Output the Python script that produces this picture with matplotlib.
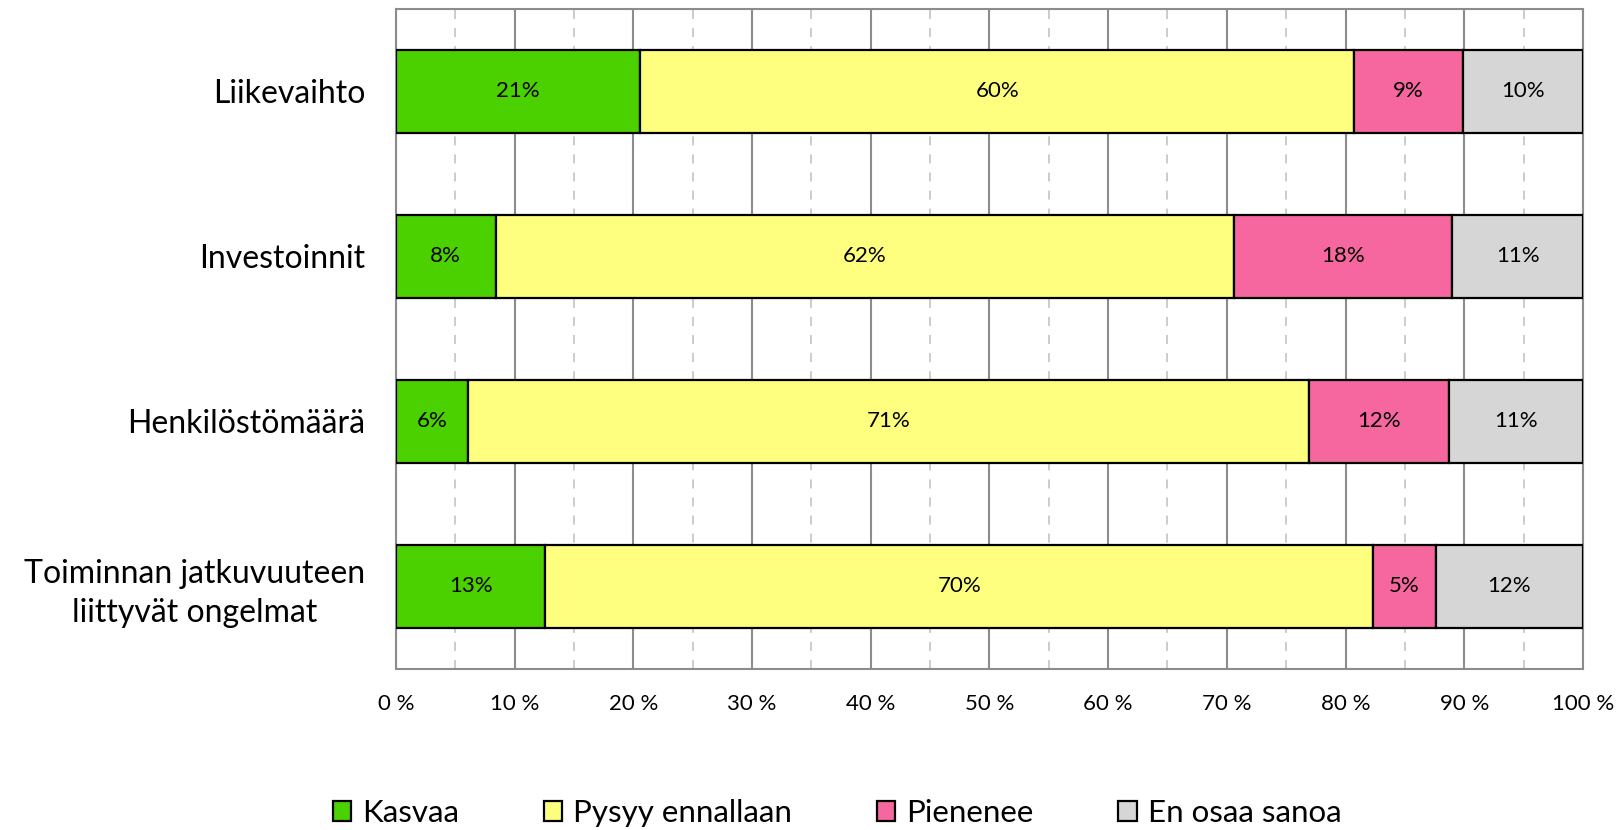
import numpy as np
import matplotlib.pyplot as plt
from matplotlib.ticker import MultipleLocator, FuncFormatter

plt.rcParams['font.family'] = ['Lato', 'DejaVu Sans']

# Data (percent of respondents)
categories = ['Liikevaihto', 'Investoinnit', 'Henkilöstömäärä',
              'Toiminnan jatkuvuuteen\nliittyvät ongelmat']
series = ['Kasvaa', 'Pysyy ennallaan', 'Pienenee', 'En osaa sanoa']
kasvaa = [20.6, 8.4, 6.1, 12.6]
pysyy = [60.1, 62.2, 70.8, 69.7]
pienenee = [9.2, 18.4, 11.8, 5.3]
en_osaa = [10.1, 11.0, 11.3, 12.4]
colors = ['#4BD000', '#FFFF7F', '#F7679F', '#D6D6D6']

fig = plt.figure(figsize=(16.22, 8.30), dpi=100)
ax = fig.add_axes([0.2441, 0.194, 0.7318, 0.7952])

y = np.arange(len(categories))
left = np.zeros(len(categories))
for name, vals, col in zip(series, [kasvaa, pysyy, pienenee, en_osaa], colors):
    vals = np.array(vals)
    bars = ax.barh(y, vals, left=left, height=0.5, color=col,
                   edgecolor='black', linewidth=1.6, label=name, zorder=3)
    for b, v in zip(bars, vals):
        ax.text(b.get_x() + b.get_width() / 2, b.get_y() + b.get_height() / 2,
                f'{v:.0f}%', ha='center', va='center', fontsize=16, zorder=4)
    left += vals

ax.set_xlim(0, 100)
ax.set_ylim(len(categories) - 0.5, -0.5)
ax.set_yticks(y)
ax.set_yticklabels(categories, fontsize=23, linespacing=1.35,
                   multialignment='center')
ax.xaxis.set_major_locator(MultipleLocator(10))
ax.xaxis.set_minor_locator(MultipleLocator(5))
ax.xaxis.set_major_formatter(FuncFormatter(lambda v, p: f'{v:.0f} %'))
ax.tick_params(axis='x', which='both', length=0, pad=18, labelsize=16)
ax.tick_params(axis='y', length=0, pad=22)

ax.grid(axis='x', which='major', color='#8C8C8C', linewidth=1.5, zorder=0)
ax.grid(axis='x', which='minor', color='#C8C8C8', linewidth=1.3,
        linestyle=(0, (5, 5)), zorder=0)
for s in ax.spines.values():
    s.set_color('#8C8C8C')
    s.set_linewidth(1.5)

fig.legend(loc='center', bbox_to_anchor=(0.516, 0.02), ncol=4, frameon=False,
           fontsize=22.5, handlelength=0.6, handleheight=0.6,
           handletextpad=0.35, columnspacing=2.7)

fig.savefig('out.png', dpi=100)
